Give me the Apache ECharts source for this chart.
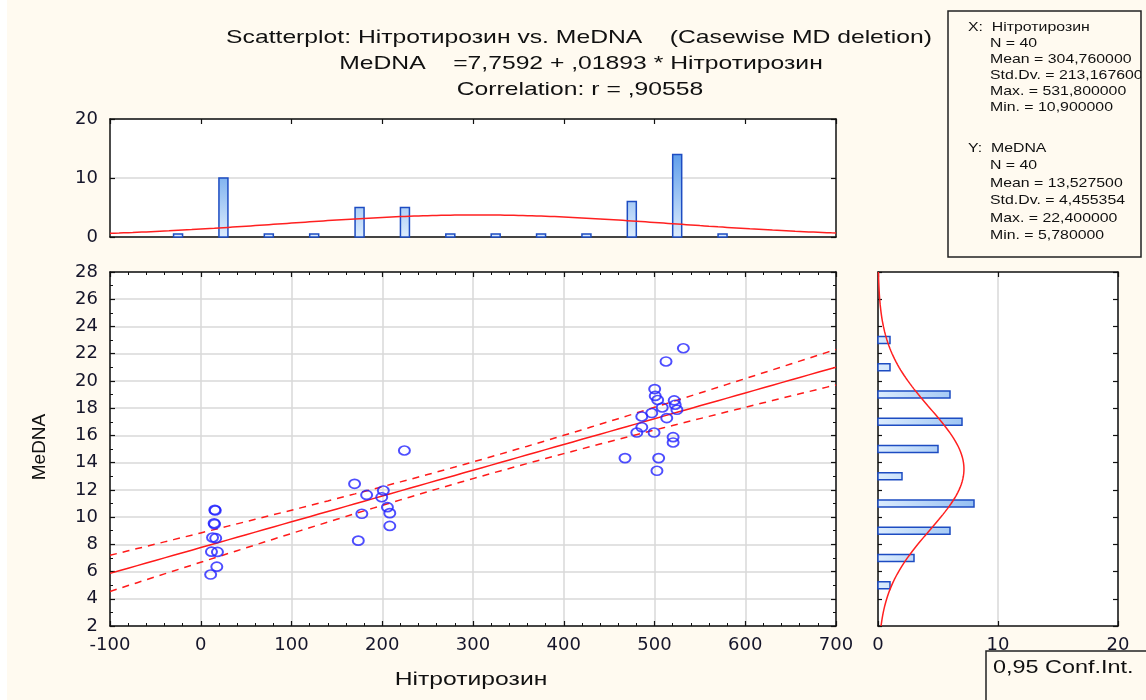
<!DOCTYPE html>
<html>
<head>
<meta charset="utf-8">
<script src="https://cdn.jsdelivr.net/npm/echarts/dist/echarts.min.js"></script>
<style>
  html, body { margin: 0; padding: 0; background: #fffaf0; }
  #chart { width: 1146px; height: 700px; }
</style>
</head>
<body>
<div id="chart"></div>
<script>
// Нітротирозин (X) and MeDNA (Y) for the 40 cases
const nitroX = [
  15.5, 16.0, 14.7, 15.2, 13.0, 16.5, 11.8, 18.4, 17.7, 10.9,
  224.4, 169.5, 182.8, 201.2, 199.4, 205.7, 208.3, 177.5, 208.3, 173.6,
  531.8, 512.7, 500.2, 500.8, 503.5, 521.7, 522.8, 524.7, 508.5, 497.0,
  486.0, 513.5, 486.0, 480.5, 499.5, 520.5, 520.5, 467.5, 504.6, 502.7
];
const medna = [
  10.53, 10.48, 9.55, 9.48, 8.50, 8.45, 7.46, 7.44, 6.36, 5.78,
  14.89, 12.44, 11.63, 11.95, 11.46, 10.73, 10.29, 10.24, 9.35, 8.27,
  22.40, 21.43, 19.40, 18.90, 18.60, 18.57, 18.25, 17.88, 18.05, 17.64,
  17.39, 17.27, 16.60, 16.21, 16.21, 15.87, 15.48, 14.33, 14.33, 13.40
];

// Histogram of Нітротирозин (bin width 50)
const xBinCenters = [-25, 25, 75, 125, 175, 225, 275, 325, 375, 425, 475, 525, 575];
const xBinCounts  = [0, 10, 0, 0, 5, 5, 0, 0, 0, 0, 6, 14, 0];
// Histogram of MeDNA (bin width 2)
const yBinCenters = [5, 7, 9, 11, 13, 15, 17, 19, 21, 23];
const yBinCounts  = [1, 3, 6, 8, 2, 5, 7, 6, 1, 1];

// Axis ticks
const xTicks = { min: -100, max: 700, step: 100 };
const yTicks = { min: 2, max: 28, step: 2 };
const topHistTicks = { min: 0, max: 20, step: 10 };
const sideHistTicks = { min: 0, max: 20, step: 10 };

// Descriptive statistics and regression fit
const nCases = 40;
const meanX = 304.76, sdX = 213.1676, maxX = 531.8, minX = 10.9;
const meanY = 13.5275, sdY = 4.455354, maxY = 22.4, minY = 5.78;
const intercept = 7.7592, slope = 0.01893, corr = 0.90558;
const tCrit = 2.024; // t(0.975, df = 38)

const binWX = 50, binWY = 2;

function normPdf(v, m, s) {
  const z = (v - m) / s;
  return Math.exp(-0.5 * z * z) / (s * Math.sqrt(2 * Math.PI));
}

// Fitted line and 95% confidence band for the mean
const sYX = sdY * Math.sqrt(1 - corr * corr) * Math.sqrt((nCases - 1) / (nCases - 2));
const sxx = (nCases - 1) * sdX * sdX;
const fitLine = [], bandUp = [], bandLo = [];
for (let x = xTicks.min; x <= xTicks.max; x += 10) {
  const yh = intercept + slope * x;
  const se = sYX * Math.sqrt(1 / nCases + (x - meanX) * (x - meanX) / sxx);
  fitLine.push([x, yh]);
  bandUp.push([x, yh + tCrit * se]);
  bandLo.push([x, yh - tCrit * se]);
}

// Expected normal counts over each histogram
const normTop = [];
for (let x = xTicks.min; x <= xTicks.max; x += 5) {
  normTop.push([x, nCases * binWX * normPdf(x, meanX, sdX)]);
}
const normSide = [];
for (let y = yTicks.min; y <= yTicks.max + 1e-9; y += 0.2) {
  normSide.push([nCases * binWY * normPdf(y, meanY, sdY), y]);
}

const points = nitroX.map((x, i) => [x, medna[i]]);
const topBars = xBinCenters.map((c, i) => [c, xBinCounts[i]]);
const sideBars = yBinCenters.map((c, i) => [yBinCounts[i], c]);

const chart = echarts.init(document.getElementById('chart'), null, { renderer: 'canvas' });

const labelFont = { fontFamily: 'DejaVu Sans', fontSize: 18, color: '#15152a' };
const gridLine = { show: true, lineStyle: { color: '#d9d9d9', width: 1.5 } };
const frameLine = { show: true, onZero: false, lineStyle: { color: '#111', width: 1.5 } };
const inTick = { show: true, inside: true, length: 5, lineStyle: { color: '#111', width: 1.2 } };

function frameAxis(extra) {
  return Object.assign({
    type: 'value',
    axisLine: frameLine,
    axisLabel: { show: false },
    splitLine: { show: false },
    axisTick: { show: false }
  }, extra);
}

function vBar(params, api) {
  const x = api.value(0), c = api.value(1);
  const base = api.coord([x, 0]);
  const top = api.coord([x, c]);
  const h = Math.max(base[1] - top[1], 3);
  const cs = params.coordSys;
  return {
    type: 'rect',
    shape: { x: base[0] - 4.5, y: base[1] - h, width: 9, height: h },
    style: {
      fill: new echarts.graphic.LinearGradient(0, cs.y, 0, cs.y + cs.height, [
        { offset: 0, color: '#2a7de3' },
        { offset: 1, color: '#dcecfd' }
      ], true),
      stroke: '#1d4cc2',
      lineWidth: 1.5
    }
  };
}

function hBar(params, api) {
  const c = api.value(0), y = api.value(1);
  const base = api.coord([0, y]);
  const end = api.coord([c, y]);
  const w = Math.max(end[0] - base[0], 3);
  const cs = params.coordSys;
  return {
    type: 'rect',
    shape: { x: base[0], y: base[1] - 3.5, width: w, height: 7 },
    style: {
      fill: new echarts.graphic.LinearGradient(cs.x, 0, cs.x + cs.width, 0, [
        { offset: 0, color: '#dcecfd' },
        { offset: 1, color: '#2a7de3' }
      ], true),
      stroke: '#1d4cc2',
      lineWidth: 1.5
    }
  };
}

function txt(x, y, s, size, align, sx) {
  return {
    type: 'text', x: x, y: y, scaleX: sx || 1, z: 50,
    style: {
      text: s, fill: '#111', fontFamily: 'Liberation Sans', fontSize: size,
      align: align, verticalAlign: 'middle', textAlign: align, textVerticalAlign: 'middle'
    }
  };
}

const statsLinesX = [
  ['X:  Нітротирозин', 968],
  ['N = 40', 990],
  ['Mean = 304,760000', 990],
  ['Std.Dv. = 213,167600', 990],
  ['Max. = 531,800000', 990],
  ['Min. = 10,900000', 990]
];
const statsLinesY = [
  ['Y:  MeDNA', 968],
  ['N = 40', 990],
  ['Mean = 13,527500', 990],
  ['Std.Dv. = 4,455354', 990],
  ['Max. = 22,400000', 990],
  ['Min. = 5,780000', 990]
];

const graphics = [
  { type: 'rect', shape: { x: 0, y: 0, width: 7, height: 700 }, style: { fill: '#ffffff' }, z: 40 },
  txt(579, 38, 'Scatterplot: Нітротирозин vs. MeDNA    (Casewise MD deletion)', 19, 'center', 1.3),
  txt(581, 64, 'MeDNA    =7,7592 + ,01893 * Нітротирозин', 19, 'center', 1.3),
  txt(580, 90, 'Correlation: r = ,90558', 19, 'center', 1.3),
  {
    type: 'text', x: 40, y: 447, rotation: Math.PI / 2, z: 50,
    style: { text: 'MeDNA', fill: '#111', fontFamily: 'Liberation Sans', fontSize: 19,
      align: 'center', verticalAlign: 'middle', textAlign: 'center', textVerticalAlign: 'middle' }
  },
  txt(471, 680, 'Нітротирозин', 19, 'center', 1.3)
];
statsLinesX.forEach((l, i) => graphics.push(txt(l[1], 27 + i * 16, l[0], 13, 'left', 1.22)));
statsLinesY.forEach((l, i) => graphics.push(txt(l[1], 148 + i * 17.5, l[0], 13, 'left', 1.22)));
graphics.push(
  { type: 'rect', shape: { x: 1141, y: 0, width: 10, height: 300 }, style: { fill: '#fffaf0' }, z: 60 },
  { type: 'rect', shape: { x: 948, y: 11, width: 193, height: 246 }, style: { fill: 'none', stroke: '#222', lineWidth: 1.5 }, z: 61 },
  { type: 'rect', shape: { x: 986, y: 651, width: 180, height: 70 }, style: { fill: '#fffaf0', stroke: '#222', lineWidth: 1.5 }, z: 61 },
  Object.assign(txt(993, 668, '0,95 Conf.Int.', 18, 'left', 1.3), { z: 62 })
);

const option = {
  animation: false,
  backgroundColor: '#fffaf0',
  grid: [
    { left: 110, top: 272, width: 726, height: 354, show: true, backgroundColor: '#ffffff', borderWidth: 0 },
    { left: 110, top: 119, width: 726, height: 118, show: true, backgroundColor: '#ffffff', borderWidth: 0 },
    { left: 878, top: 272, width: 240, height: 354, show: true, backgroundColor: '#ffffff', borderWidth: 0 }
  ],
  xAxis: [
    {
      gridIndex: 0, type: 'value', position: 'bottom',
      min: xTicks.min, max: xTicks.max, interval: xTicks.step,
      axisLine: frameLine,
      axisTick: inTick,
      minorTick: { show: true, splitNumber: 5, length: 3, lineStyle: { color: '#111', width: 1 } },
      axisLabel: Object.assign({ margin: 10 }, labelFont),
      splitLine: gridLine
    },
    frameAxis({
      gridIndex: 0, position: 'top', min: xTicks.min, max: xTicks.max, interval: xTicks.step,
      axisTick: inTick,
      minorTick: { show: true, splitNumber: 5, length: 3, lineStyle: { color: '#111', width: 1 } }
    }),
    frameAxis({ gridIndex: 1, position: 'bottom', min: xTicks.min, max: xTicks.max, interval: xTicks.step }),
    frameAxis({
      gridIndex: 1, position: 'top', min: xTicks.min, max: xTicks.max, interval: xTicks.step,
      axisTick: inTick
    }),
    {
      gridIndex: 2, type: 'value', position: 'bottom',
      min: sideHistTicks.min, max: sideHistTicks.max, interval: sideHistTicks.step,
      axisLine: frameLine,
      axisTick: inTick,
      axisLabel: Object.assign({ margin: 10 }, labelFont),
      splitLine: gridLine
    },
    frameAxis({
      gridIndex: 2, position: 'top', min: sideHistTicks.min, max: sideHistTicks.max, interval: sideHistTicks.step,
      axisTick: inTick
    })
  ],
  yAxis: [
    {
      gridIndex: 0, type: 'value', position: 'left',
      min: yTicks.min, max: yTicks.max, interval: yTicks.step,
      axisLine: frameLine,
      axisTick: inTick,
      minorTick: { show: true, splitNumber: 2, length: 3, lineStyle: { color: '#111', width: 1 } },
      axisLabel: Object.assign({ margin: 12 }, labelFont),
      splitLine: gridLine
    },
    frameAxis({
      gridIndex: 0, position: 'right', min: yTicks.min, max: yTicks.max, interval: yTicks.step,
      axisTick: inTick,
      minorTick: { show: true, splitNumber: 2, length: 3, lineStyle: { color: '#111', width: 1 } }
    }),
    {
      gridIndex: 1, type: 'value', position: 'left',
      min: topHistTicks.min, max: topHistTicks.max, interval: topHistTicks.step,
      axisLine: frameLine,
      axisTick: inTick,
      axisLabel: Object.assign({ margin: 12 }, labelFont),
      splitLine: gridLine
    },
    frameAxis({
      gridIndex: 1, position: 'right', min: topHistTicks.min, max: topHistTicks.max, interval: topHistTicks.step,
      axisTick: inTick
    }),
    frameAxis({
      gridIndex: 2, position: 'left', min: yTicks.min, max: yTicks.max, interval: yTicks.step,
      axisTick: { show: true, inside: true, length: 4, lineStyle: { color: '#111', width: 1.2 } }
    }),
    frameAxis({
      gridIndex: 2, position: 'right', min: yTicks.min, max: yTicks.max, interval: yTicks.step,
      axisTick: inTick
    })
  ],
  series: [
    {
      type: 'line', xAxisIndex: 0, yAxisIndex: 0, data: fitLine, showSymbol: false, z: 3,
      lineStyle: { color: '#ff1a1a', width: 1.5 }, silent: true
    },
    {
      type: 'line', xAxisIndex: 0, yAxisIndex: 0, data: bandUp, showSymbol: false, z: 3,
      lineStyle: { color: '#ff1a1a', width: 1.5, type: [7, 6] }, silent: true
    },
    {
      type: 'line', xAxisIndex: 0, yAxisIndex: 0, data: bandLo, showSymbol: false, z: 3,
      lineStyle: { color: '#ff1a1a', width: 1.5, type: [7, 6] }, silent: true
    },
    {
      type: 'scatter', xAxisIndex: 0, yAxisIndex: 0, data: points, z: 5,
      symbol: 'circle', symbolSize: [11, 9],
      itemStyle: { color: 'rgba(0,0,0,0)', borderColor: '#2222ff', borderWidth: 1.8 }
    },
    {
      type: 'custom', xAxisIndex: 2, yAxisIndex: 2, data: topBars, renderItem: vBar, z: 3,
      encode: { x: 0, y: 1 }
    },
    {
      type: 'line', xAxisIndex: 2, yAxisIndex: 2, data: normTop, showSymbol: false, z: 4,
      lineStyle: { color: '#ff2020', width: 1.5 }, silent: true
    },
    {
      type: 'custom', xAxisIndex: 4, yAxisIndex: 4, data: sideBars, renderItem: hBar, z: 3,
      encode: { x: 0, y: 1 }
    },
    {
      type: 'line', xAxisIndex: 4, yAxisIndex: 4, data: normSide, showSymbol: false, z: 4,
      lineStyle: { color: '#ff2020', width: 1.5 }, silent: true
    }
  ],
  graphic: graphics
};

chart.setOption(option);
</script>
</body>
</html>
